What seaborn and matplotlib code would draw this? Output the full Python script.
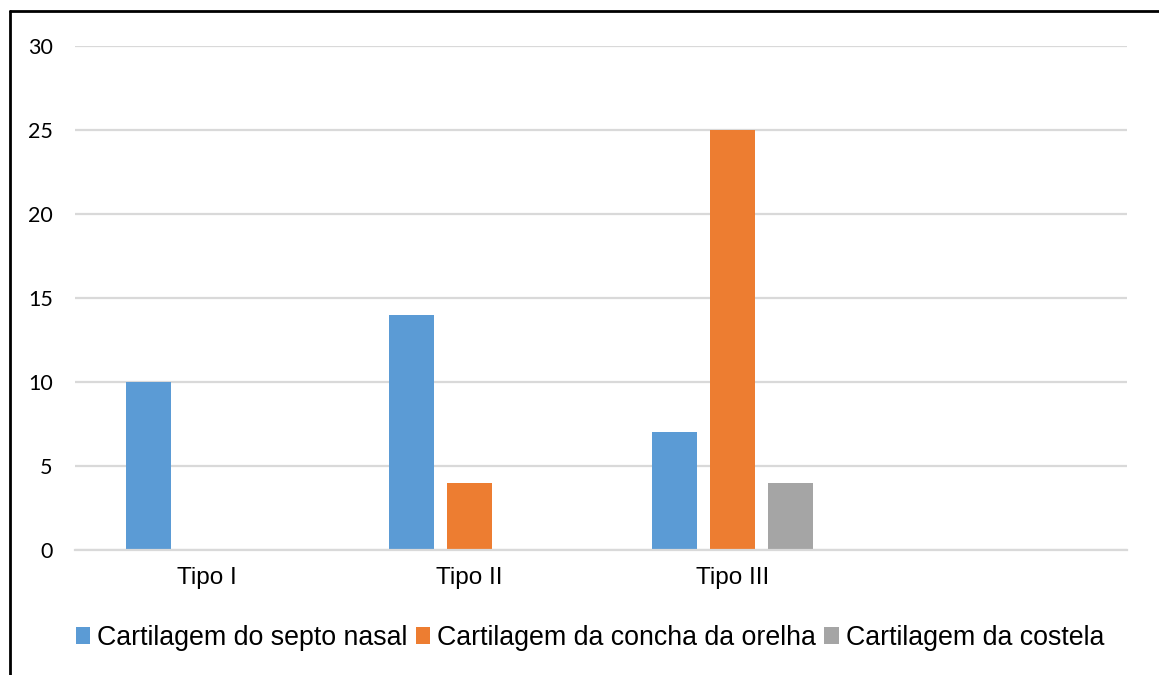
import matplotlib
matplotlib.use("Agg")
import matplotlib.pyplot as plt
from matplotlib.patches import Patch
from matplotlib.lines import Line2D
import seaborn as sns
import pandas as pd

categories = ["Tipo I", "Tipo II", "Tipo III"]
series_names = [
    "Cartilagem do septo nasal",
    "Cartilagem da concha da orelha",
    "Cartilagem da costela",
]
septo_nasal = [10, 14, 7]
concha_orelha = [0, 4, 25]
costela = [0, 0, 4]
y_ticks = [0, 5, 10, 15, 20, 25, 30]

colors = ["#5B9BD5", "#ED7D31", "#A5A5A5"]

rows = []
for name, vals in zip(series_names, [septo_nasal, concha_orelha, costela]):
    for cat, v in zip(categories, vals):
        rows.append({"categoria": cat, "serie": name, "valor": v})
df = pd.DataFrame(rows)

sns.set_theme(style="white")
plt.rcParams["font.family"] = ["Liberation Sans", "DejaVu Sans"]
plt.rcParams["text.color"] = "black"
plt.rcParams["xtick.color"] = "black"
plt.rcParams["ytick.color"] = "black"

fig = plt.figure(figsize=(11.59, 6.75), dpi=100)
ax = fig.add_axes([75 / 1159, 1 - 550 / 675, 1052 / 1159, 504 / 675])

sns.barplot(
    data=df, x="categoria", y="valor", hue="serie",
    order=categories, hue_order=series_names, palette=colors,
    width=0.66, gap=0.21, errorbar=None, legend=False, ax=ax,
    linewidth=0, saturation=1,
)

ax.set_xlim(-0.5, 3.5)
ax.set_ylim(0, 30)
ax.set_yticks(y_ticks)
ax.set_yticklabels([str(t) for t in y_ticks], fontfamily="Lato", fontsize=15.5)
ax.set_xticks(range(len(categories)))
ax.set_xticklabels(categories, fontsize=17.5)
ax.set_xlabel("")
ax.set_ylabel("")
ax.yaxis.grid(True, color="#D9D9D9", linewidth=1.6)
ax.set_axisbelow(True)
for s in ["top", "right", "left"]:
    ax.spines[s].set_visible(False)
ax.spines["bottom"].set_color("#D9D9D9")
ax.spines["bottom"].set_linewidth(1.6)
ax.tick_params(axis="both", length=0)
ax.tick_params(axis="y", pad=16)
ax.tick_params(axis="x", pad=12)

handles = [Patch(facecolor=c, edgecolor="none") for c in colors]
fig.legend(
    handles, series_names, loc="center", ncol=3,
    bbox_to_anchor=(590 / 1159, 1 - 638 / 675), frameon=False,
    fontsize=19.25, handlelength=0.55, handleheight=0.55,
    handletextpad=0.26, columnspacing=0.3, labelcolor="black",
)

# frame lines along the top and left edges of the figure
fig.add_artist(Line2D([9.5 / 1159, 1], [1 - 10.5 / 675, 1 - 10.5 / 675],
                      transform=fig.transFigure, color="black", linewidth=2))
fig.add_artist(Line2D([9.5 / 1159, 9.5 / 1159], [0, 1 - 10.5 / 675],
                      transform=fig.transFigure, color="black", linewidth=2))

fig.savefig("out.png", dpi=100, facecolor="white")
